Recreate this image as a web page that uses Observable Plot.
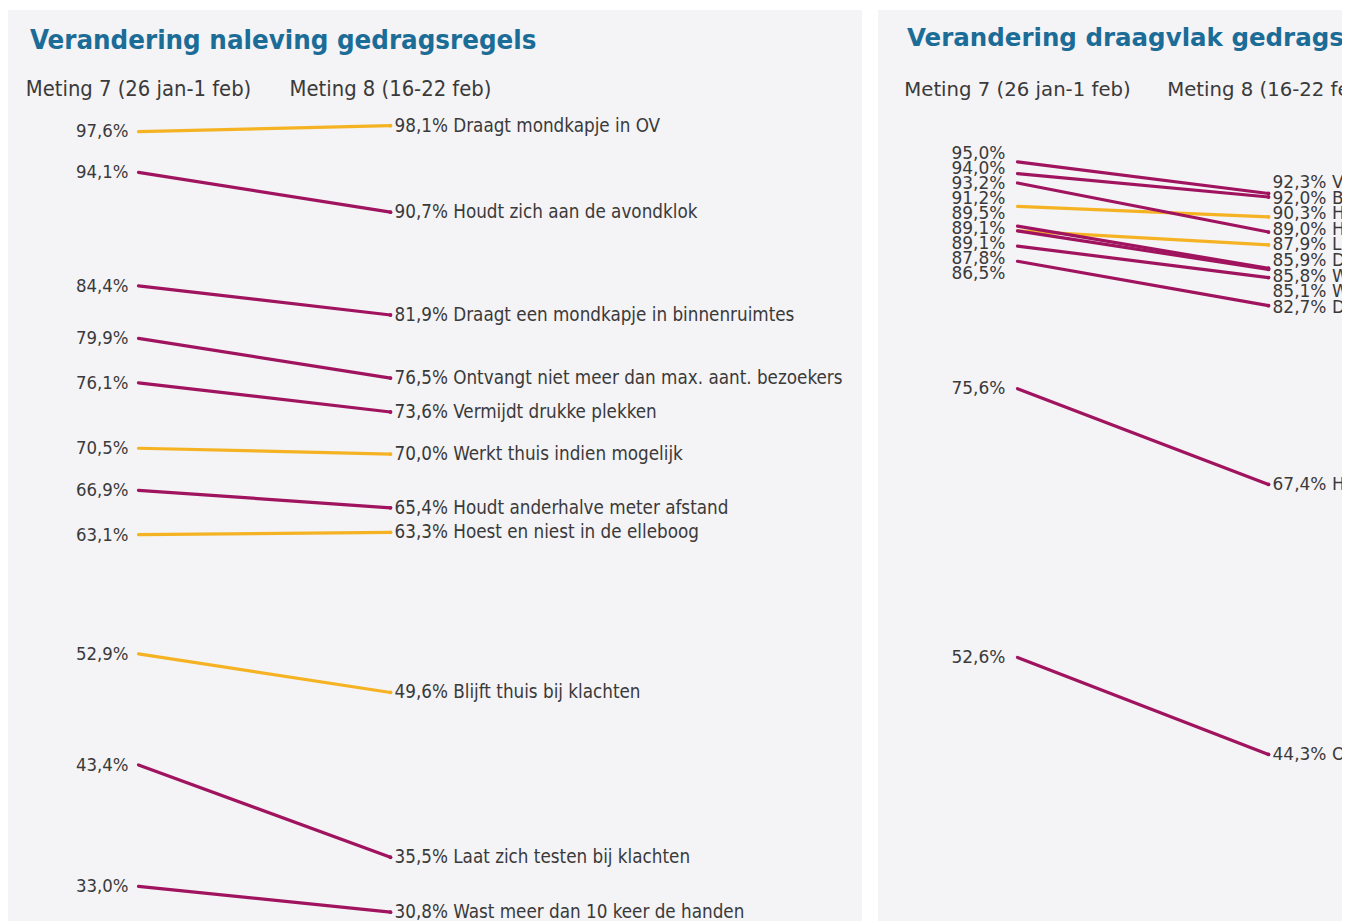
<!DOCTYPE html>
<html><head><meta charset="utf-8">
<script src="https://cdn.jsdelivr.net/npm/d3@7"></script>
<script src="https://cdn.jsdelivr.net/npm/@observablehq/plot@0.6"></script>
<style>
body{margin:0;background:#fff;width:1345px;height:921px;overflow:hidden;position:relative;}
.panel{position:absolute;top:10px;height:911px;background:#f4f3f6;overflow:hidden;}
#left{left:8px;width:854px;}
#right{left:878px;width:464px;}
.title{position:absolute;top:16px;font-weight:bold;color:#1b6c96;white-space:nowrap;line-height:1;}
#left .title{left:22px;font-family:"DejaVu Sans Condensed","DejaVu Sans",sans-serif;font-stretch:condensed;font-size:27.4px;}
#right .title{left:29px;font-family:"DejaVu Sans",sans-serif;font-size:24.5px;}
.chart{position:absolute;top:50px;left:0;width:854px;}
.chart svg{max-width:none !important;}
</style>
</head><body>
<div class="panel" id="left"><div class="title">Verandering naleving gedragsregels</div><div class="chart" id="lc"></div></div>
<div class="panel" id="right"><div class="title">Verandering draagvlak gedragsregels</div><div class="chart" id="rc"></div></div>
<script>
const measurements = ["Meting 7 (26 jan-1 feb)", "Meting 8 (16-22 feb)"];

const leftLabels = ["Draagt mondkapje in OV", "Houdt zich aan de avondklok", "Draagt een mondkapje in binnenruimtes", "Ontvangt niet meer dan max. aant. bezoekers", "Vermijdt drukke plekken", "Werkt thuis indien mogelijk", "Houdt anderhalve meter afstand", "Hoest en niest in de elleboog", "Blijft thuis bij klachten", "Laat zich testen bij klachten", "Wast meer dan 10 keer de handen"];
const leftM7 = [97.6, 94.1, 84.4, 79.9, 76.1, 70.5, 66.9, 63.1, 52.9, 43.4, 33.0];
const leftM8 = [98.1, 90.7, 81.9, 76.5, 73.6, 70.0, 65.4, 63.3, 49.6, 35.5, 30.8];
const leftSignificant = [false, true, true, true, true, false, true, false, false, true, true];

const rightLabels = ["Vermijdt drukke plekken", "Blijft thuis bij klachten", "Hoest en niest in de elleboog", "Houdt anderhalve meter afstand", "Laat zich testen bij klachten", "Draagt mondkapje in OV", "Wast vaak de handen", "Werkt thuis indien mogelijk", "Draagt een mondkapje in binnenruimtes", "Houdt zich aan de avondklok", "Ontvangt niet meer dan max. aant. bezoekers"];
const rightM7 = [95.0, 94.0, 91.2, 93.2, 89.1, 89.5, 89.1, 87.8, 86.5, 75.6, 52.6];
const rightM8 = [92.3, 92.0, 90.3, 89.0, 87.9, 85.9, 85.8, 85.1, 82.7, 67.4, 44.3];
const rightSignificant = [true, true, false, true, false, true, true, true, true, true, true];

const PURPLE = "#a0135e", YELLOW = "#f5b324", TEXT = "#3a3a3a";
const W = 854, H = 861, MT = 43, MB = 0;
const yDomain = [30, 100];
const fmt = v => v.toFixed(1).replace(".", ",") + "%";

// spread labels that would overlap (cluster method), in pixel space
function spread(values, gap) {
  const ys = d3.scaleLinear().domain(yDomain).range([H - MB, MT]);
  const items = values.map((v, i) => ({i, p: ys(v)})).sort((a, b) => a.p - b.p);
  let clusters = [];
  for (const it of items) {
    clusters.push({items: [it], mean: it.p});
    while (clusters.length > 1) {
      const c = clusters[clusters.length - 1], prev = clusters[clusters.length - 2];
      const prevTop = prev.mean - (prev.items.length - 1) * gap / 2;
      const curTop = c.mean - (c.items.length - 1) * gap / 2;
      if (prevTop + prev.items.length * gap > curTop + 0.01) {
        const all = prev.items.concat(c.items);
        clusters.splice(-2, 2, {items: all, mean: d3.mean(all, d => d.p)});
      } else break;
    }
  }
  const out = new Array(values.length);
  for (const c of clusters) {
    const top = c.mean - (c.items.length - 1) * gap / 2;
    c.items.forEach((it, k) => out[it.i] = ys.invert(top + k * gap));
  }
  return out;
}

function build(labels, m7, m8, sig, opts) {
  const rows = labels.map((label, i) => ({label, v7: m7[i], v8: m8[i], sig: sig[i]}));
  const p7 = opts.gap7 ? spread(m7, opts.gap7) : m7;
  const p8 = opts.gap8 ? spread(m8, opts.gap8) : m8;
  rows.forEach((r, i) => { r.l7 = p7[i]; r.l8 = p8[i]; });
  const order = rows.slice().sort((a, b) => (a.sig === b.sig ? 0 : a.sig ? 1 : -1));
  return Plot.plot({
    width: W, height: H,
    marginLeft: opts.ml, marginRight: W - opts.xr, marginTop: MT, marginBottom: MB,
    style: {fontFamily: opts.font, fontSize: opts.fs + "px", color: TEXT, background: "transparent", overflow: "visible", maxWidth: "none"},
    x: {type: "point", domain: measurements, padding: 0, axis: null},
    y: {domain: yDomain, axis: null},
    marks: [
      Plot.axisX({anchor: "top", tickSize: 0, tickPadding: opts.tp, fontSize: opts.hfs, label: null, fill: TEXT}),
      Plot.link(order, {
        x1: () => measurements[0], y1: "v7", x2: () => measurements[1], y2: "v8",
        stroke: d => d.sig ? PURPLE : YELLOW, strokeWidth: 3.2, strokeLinecap: "round"
      }),
      Plot.dot(order, {x: () => measurements[1], y: "v8", r: 1.9, fill: d => d.sig ? PURPLE : YELLOW}),
      Plot.text(rows, {x: () => measurements[0], y: "l7", text: d => fmt(d.v7), textAnchor: "end", dx: opts.vdx, fill: TEXT, fontSize: opts.vfs}),
      Plot.text(rows, {x: () => measurements[1], y: "l8", text: d => fmt(d.v8) + " " + d.label, textAnchor: "start", dx: 4, fill: TEXT})
    ]
  });
}

document.getElementById("lc").append(build(leftLabels, leftM7, leftM8, leftSignificant, {
  ml: 130, xr: 382, font: '"DejaVu Sans Condensed", "DejaVu Sans", sans-serif', fs: 18.7, vfs: 18.4, hfs: 21.8, tp: 8, vdx: -10
}));
document.getElementById("rc").append(build(rightLabels, rightM7, rightM8, rightSignificant, {
  ml: 139, xr: 390, font: '"DejaVu Sans", sans-serif', fs: 17, vfs: 17, hfs: 19.7, tp: 8, vdx: -12, gap7: 15, gap8: 15.6
}));
</script>
</body></html>
